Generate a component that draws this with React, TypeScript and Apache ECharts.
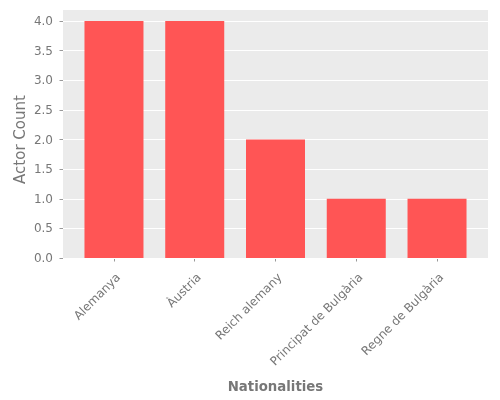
import React, { useEffect, useRef } from "react";
import * as echarts from "echarts";

const categories = ["Alemanya", "Àustria", "Reich alemany", "Principat de Bulgària", "Regne de Bulgària"];
const actorCounts = [4, 4, 2, 1, 1];
const yTicks = { min: 0, max: 4, interval: 0.5 };

export default function App() {
  const ref = useRef<HTMLDivElement>(null);
  useEffect(() => {
    if (!ref.current) return;
    const chart = echarts.init(ref.current, null, { renderer: "svg" });
    const txt = "#777777";
    const font = "DejaVu Sans";
    chart.setOption({
      animation: false,
      grid: [
        { left: 63, right: 12, top: 10, bottom: 142, show: true, backgroundColor: "#EBEBEB", borderWidth: 0, z: 0 },
        { left: 63, right: 12, top: 21, bottom: 142, z: 1 },
        { left: 73.6, right: 22.6, top: 21, bottom: 142, z: 2 },
      ],
      xAxis: [
        { gridIndex: 0, type: "value", show: false, min: 0, max: 1 },
        { gridIndex: 1, type: "value", show: false, min: 0, max: 1 },
        {
          gridIndex: 2,
          type: "category",
          data: categories,
          axisLine: { show: false },
          axisTick: { show: true, alignWithLabel: true, length: 3.5, lineStyle: { color: "#999999" } },
          axisLabel: {
            rotate: 45,
            color: txt,
            fontSize: 12,
            fontFamily: font,
            margin: 13,
            interval: 0,
            verticalAlign: "top",
            lineHeight: 12,
          },
          name: "Nationalities",
          nameLocation: "middle",
          nameGap: 122,
          nameMoveOverlap: false,
          nameTextStyle: { color: txt, fontSize: 13.3, fontWeight: "bold", fontFamily: font },
          splitLine: { show: false },
        },
      ],
      yAxis: [
        { gridIndex: 0, type: "value", show: false, min: 0, max: 1 },
        {
          gridIndex: 1,
          type: "value",
          min: yTicks.min,
          max: yTicks.max,
          interval: yTicks.interval,
          z: 3,
          axisLine: { show: false },
          axisTick: { show: true, length: 3.5, lineStyle: { color: "#999999" } },
          axisLabel: { color: txt, fontSize: 12, fontFamily: font, margin: 10, formatter: (v: number) => v.toFixed(1) },
          splitLine: { show: true, lineStyle: { color: "#FFFFFF", width: 1 } },
          name: "Actor Count",
          nameLocation: "middle",
          nameGap: 35.5,
          nameMoveOverlap: false,
          nameRotate: 90,
          nameTextStyle: { color: txt, fontSize: 15, fontWeight: "normal", fontFamily: font },
        },
        { gridIndex: 2, type: "value", show: false, min: yTicks.min, max: yTicks.max, interval: yTicks.interval, splitLine: { show: false } },
      ],
      series: [
        {
          type: "bar",
          xAxisIndex: 2,
          yAxisIndex: 2,
          data: actorCounts,
          barWidth: 59,
          itemStyle: { color: "#FF5555" },
          z: 5,
        },
      ],
    });
    return () => chart.dispose();
  }, []);
  return <div ref={ref} style={{ position: "fixed", left: 0, top: 0, width: 500, height: 400 }} />;
}
